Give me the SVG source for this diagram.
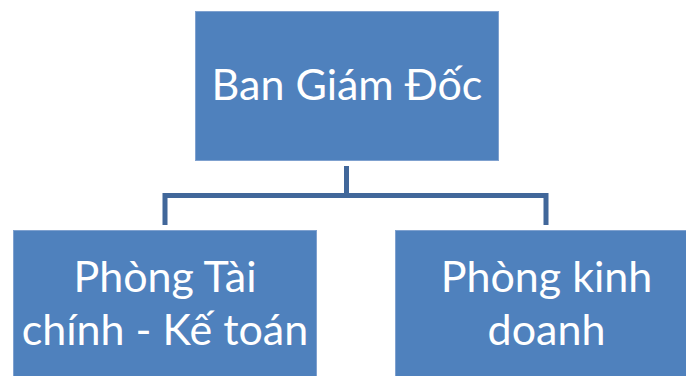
<svg xmlns="http://www.w3.org/2000/svg" width="686" height="376" viewBox="0 0 686 376">
<style>
.box{fill:#4f81bd;stroke:#7fa1cf;stroke-width:1}
.lbl{fill:#ffffff;font-family:Lato,"Open Sans",sans-serif;font-size:43px;text-anchor:middle}
.conn{fill:none;stroke:#41679a;stroke-width:5}
</style>
<rect width="686" height="376" fill="#ffffff"/>
<g id="connectors">
<path class="conn" d="M346.5 166 V195.5"/>
<path class="conn" d="M165 225 V195.5 H546 V225"/>
</g>
<g id="node-ban-giam-doc">
<rect class="box" x="195.5" y="11.5" width="303" height="149"/>
<text class="lbl" x="347" y="100">Ban Giám Đốc</text>
</g>
<g id="node-tai-chinh">
<rect class="box" x="13.5" y="230.5" width="303" height="149"/>
<text class="lbl" x="165" y="292">Phòng Tài</text>
<text class="lbl" x="165" y="345">chính - Kế toán</text>
</g>
<g id="node-kinh-doanh">
<rect class="box" x="395.5" y="230.5" width="303" height="149"/>
<text class="lbl" x="546.5" y="292">Phòng kinh</text>
<text class="lbl" x="546.5" y="345">doanh</text>
</g>
</svg>
